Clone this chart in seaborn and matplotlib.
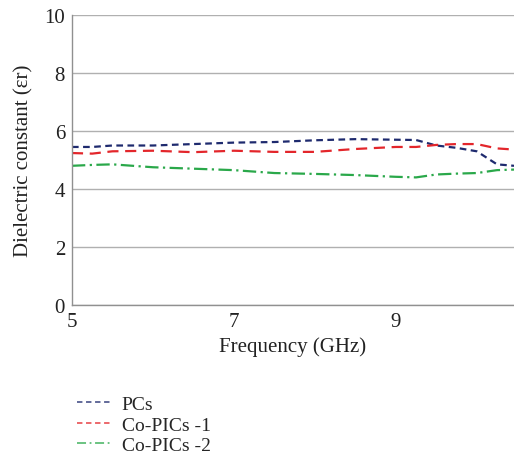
import pandas as pd
import matplotlib.pyplot as plt
import seaborn as sns

sns.set_theme(style="whitegrid")
plt.rcParams['font.family'] = ['Liberation Serif', 'DejaVu Serif']

# Frequency points (GHz) and readings for each sample
freq = [5.0, 5.25, 5.5, 6.0, 6.5, 7.0, 7.5, 8.0, 8.5, 9.0, 9.25, 9.5, 9.75, 10.0, 10.25, 10.46]
pcs = [5.45, 5.45, 5.5, 5.5, 5.55, 5.6, 5.62, 5.68, 5.72, 5.7, 5.69, 5.5, 5.42, 5.3, 4.85, 4.8]
co_pics_1 = [5.24, 5.22, 5.3, 5.32, 5.27, 5.32, 5.28, 5.28, 5.38, 5.45, 5.45, 5.52, 5.55, 5.55, 5.4, 5.36]
co_pics_2 = [4.8, 4.83, 4.85, 4.75, 4.7, 4.65, 4.55, 4.52, 4.48, 4.42, 4.4, 4.5, 4.53, 4.55, 4.65, 4.67]

series_names = ['PCs', 'Co-PICs -1', 'Co-PICs -2']
colors = ['#1e2a6e', '#e3262b', '#2aa84a']

df = pd.concat([
    pd.DataFrame({'Frequency': freq, 'value': vals, 'sample': name})
    for name, vals in zip(series_names, [pcs, co_pics_1, co_pics_2])
])

fig = plt.figure(figsize=(5.14, 4.6), dpi=100)
ax = fig.add_axes([0.140, 0.335, 0.86, 0.63])

sns.lineplot(data=df, x='Frequency', y='value', hue='sample', style='sample',
             palette=colors, dashes=[(3, 2), (5, 3), (6, 2, 1, 2)],
             linewidth=1.6, ax=ax, legend=False)

ax.set_xlim(5, 10.46)
ax.set_ylim(0, 10)
ax.set_xticks([5, 7, 9])
ax.set_yticks([0, 2, 4, 6, 8, 10])
ax.grid(axis='x', visible=False)
ax.grid(axis='y', color='#b0b0b0', linewidth=1.0)
ax.set_axisbelow(True)
for side in ['top', 'right']:
    ax.spines[side].set_visible(False)
for side in ['left', 'bottom']:
    ax.spines[side].set_color('#909090')
    ax.spines[side].set_linewidth(1.0)
ax.tick_params(axis='both', labelsize=15, colors='#222222', length=0, pad=5)
ax.set_xlabel('Frequency (GHz)', fontsize=15, color='#222222', labelpad=4)
ax.set_ylabel('Dielectric constant (εr)', fontsize=15, color='#222222', labelpad=8)

handles = [plt.Line2D([], [], color=c, linewidth=1.3, alpha=0.75, dashes=d)
           for c, d in zip(colors, [(3, 2), (3, 2), (5, 2, 1, 2)])]
fig.legend(handles, series_names, loc='upper left', bbox_to_anchor=(0.135, 0.155),
           frameon=False, fontsize=14, handlelength=1.8, handletextpad=0.5,
           labelspacing=0.15, borderaxespad=0)

fig.savefig('out.png', dpi=100)
